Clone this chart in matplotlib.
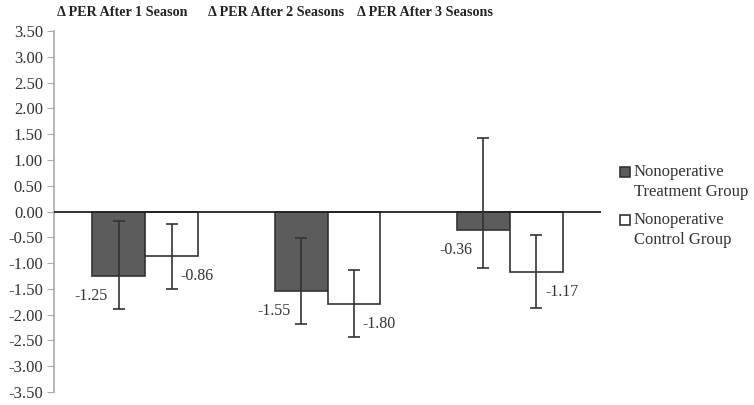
import numpy as np
import matplotlib
matplotlib.use("Agg")
import matplotlib.pyplot as plt
from matplotlib.patches import Rectangle

plt.rcParams["font.family"] = ["Liberation Serif", "DejaVu Serif"]
plt.rcParams["axes.unicode_minus"] = False

GROUPS = ["\u0394 PER After 1 Season", "\u0394 PER After 2 Seasons", "\u0394 PER After 3 Seasons"]
SERIES = ["Nonoperative\nTreatment Group", "Nonoperative\nControl Group"]

treatment = [-1.25, -1.55, -0.36]
control = [-0.86, -1.80, -1.17]

# error bar ends (low, high)
treatment_low = [-1.90, -2.19, -1.09]
treatment_high = [-0.19, -0.52, 1.43]
control_low = [-1.51, -2.44, -1.88]
control_high = [-0.25, -1.14, -0.45]

Y_TICKS = np.arange(-3.5, 3.51, 0.5)

EDGE = "#333333"
TEXT = "#333333"
DARK = "#5c5c5c"


def main() -> None:
    W, H = 754, 405
    fig = plt.figure(figsize=(W / 100, H / 100), dpi=100)
    ax = fig.add_axes([54 / W, 1 - 392 / H, (601 - 54) / W, (392 - 31) / H])

    x = np.arange(len(GROUPS))
    w = 0.29

    t = np.array(treatment)
    c = np.array(control)
    t_err = [t - np.array(treatment_low), np.array(treatment_high) - t]
    c_err = [c - np.array(control_low), np.array(control_high) - c]

    ax.bar(x - w / 2, t, w, color=DARK, edgecolor=EDGE, linewidth=1.2, zorder=2)
    ax.bar(x + w / 2, c, w, color="white", edgecolor=EDGE, linewidth=1.2, zorder=2)
    ax.errorbar(x - w / 2, t, yerr=t_err, fmt="none", ecolor=EDGE, elinewidth=1.2,
                capsize=4, capthick=1.2, zorder=4)
    ax.errorbar(x + w / 2, c, yerr=c_err, fmt="none", ecolor=EDGE, elinewidth=1.2,
                capsize=4, capthick=1.2, zorder=4)
    ax.axhline(0, color="#222222", linewidth=1.3, zorder=3)

    for xi, v in zip(x, treatment):
        ax.text(xi - w / 2 - 0.15, v - 0.38, f"{v:.2f}", ha="center", va="center",
                fontsize=11.5, color=TEXT)
    for xi, v in zip(x, control):
        ax.text(xi + w / 2 + 0.14, v - 0.39, f"{v:.2f}", ha="center", va="center",
                fontsize=11.5, color=TEXT)

    ax.set_xlim(-0.5, 2.5)
    ax.set_ylim(-3.5, 3.5)
    ax.set_yticks(Y_TICKS)
    ax.set_yticklabels([f"{v:.2f}" for v in Y_TICKS])
    ax.set_xticks([])
    ax.tick_params(axis="y", direction="out", length=5, color="#aaaaaa",
                   labelsize=12, labelcolor=TEXT, pad=3)
    for side in ["top", "right", "bottom"]:
        ax.spines[side].set_visible(False)
    ax.spines["left"].set_color("#aaaaaa")
    ax.spines["left"].set_linewidth(1.2)

    for label, px in zip(GROUPS, [122, 276, 425]):
        fig.text(px / W, 1 - 13 / H, label, ha="center", va="center",
                 fontsize=10.2, fontweight="bold", color="#222222")

    # legend drawn by hand so the swatch sits next to the first line
    for face, label, top in zip([DARK, "white"], SERIES, [167, 215]):
        fig.patches.append(Rectangle((620 / W, 1 - (top + 10) / H), 10 / W, 10 / H,
                                     transform=fig.transFigure, facecolor=face,
                                     edgecolor=EDGE, linewidth=1.2))
        fig.text(634 / W, 1 - (top - 3) / H, label, ha="left", va="top",
                 fontsize=12, color=TEXT, linespacing=1.3)

    fig.savefig("out.png", dpi=100)


if __name__ == "__main__":
    main()
